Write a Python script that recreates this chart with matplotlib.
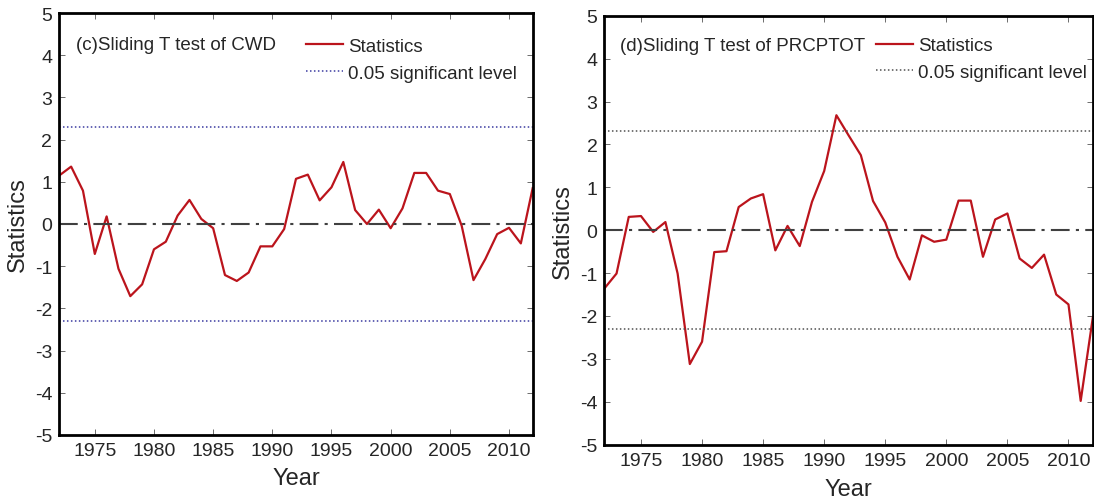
import matplotlib
matplotlib.use("Agg")
import matplotlib.pyplot as plt

plt.rcParams["font.family"] = ["Liberation Sans", "DejaVu Sans"]
plt.rcParams["axes.unicode_minus"] = False

# Sliding T statistics, one value per year
years = list(range(1972, 2013))
cwd_stat = [1.15, 1.36, 0.79, -0.71, 0.18, -1.06, -1.71, -1.43, -0.60, -0.42,
            0.20, 0.57, 0.12, -0.10, -1.21, -1.35, -1.15, -0.53, -0.53, -0.12,
            1.07, 1.17, 0.56, 0.87, 1.47, 0.33, 0.00, 0.34, -0.10, 0.37,
            1.21, 1.21, 0.79, 0.71, -0.04, -1.33, -0.83, -0.24, -0.09, -0.46,
            0.85]
prcptot_stat = [-1.36, -1.01, 0.31, 0.33, -0.04, 0.19, -1.01, -3.12, -2.60, -0.51,
                -0.49, 0.54, 0.74, 0.84, -0.47, 0.10, -0.37, 0.66, 1.38, 2.68,
                2.21, 1.75, 0.68, 0.18, -0.62, -1.15, -0.12, -0.27, -0.22, 0.69,
                0.69, -0.62, 0.25, 0.39, -0.66, -0.88, -0.57, -1.50, -1.73, -3.98,
                -2.02]
sig_level = 2.31
xticks = [1975, 1980, 1985, 1990, 1995, 2000, 2005, 2010]
yticks = [-5, -4, -3, -2, -1, 0, 1, 2, 3, 4, 5]

text_col = "#262626"
line_col = "#bb141c"

fig = plt.figure(figsize=(10.94, 5.02), dpi=100)
ax1 = fig.add_axes([0.0542, 0.1315, 0.4327, 0.8406])
ax2 = fig.add_axes([0.5524, 0.1122, 0.4466, 0.8545])


def draw_panel(ax, values, title, sig_col, title_pos, leg_anchor, xpad):
    ax.plot(years, values, color=line_col, lw=1.6, label="Statistics")
    ax.axhline(sig_level, color=sig_col, lw=1.1, ls=(0, (1, 1.6)),
               label="0.05 significant level")
    ax.axhline(-sig_level, color=sig_col, lw=1.1, ls=(0, (1, 1.6)))
    ax.axhline(0, color="#404040", lw=1.5, ls=(0, (9, 3, 1.5, 3)))
    ax.set_xlim(1972, 2012)
    ax.set_ylim(-5, 5)
    ax.set_xticks(xticks)
    ax.set_yticks(yticks)
    ax.tick_params(direction="in", top=True, right=True, length=4, width=0.6,
                   labelsize=14, labelcolor=text_col, color="#555555", pad=5)
    for sp in ax.spines.values():
        sp.set_linewidth(2.0)
        sp.set_color("black")
    ax.set_xlabel("Year", fontsize=17, color=text_col, labelpad=xpad)
    ax.set_ylabel("Statistics", fontsize=17, color=text_col, labelpad=4)
    ax.text(title_pos[0], title_pos[1], title, transform=ax.transAxes,
            fontsize=13.5, color=text_col, va="center", ha="left")
    ax.legend(loc="upper left", bbox_to_anchor=leg_anchor, frameon=False,
              fontsize=13.5, borderpad=0, borderaxespad=0, handlelength=2.0,
              handletextpad=0.25, labelspacing=0.5, labelcolor=text_col)


draw_panel(ax1, cwd_stat, "(c)Sliding T test of CWD", "#3a3aa0",
           (0.035, 0.925), (0.521, 0.941), 6)
draw_panel(ax2, prcptot_stat, "(d)Sliding T test of PRCPTOT", "#505050",
           (0.032, 0.930), (0.556, 0.950), 7)

fig.savefig("out.png", dpi=100)
